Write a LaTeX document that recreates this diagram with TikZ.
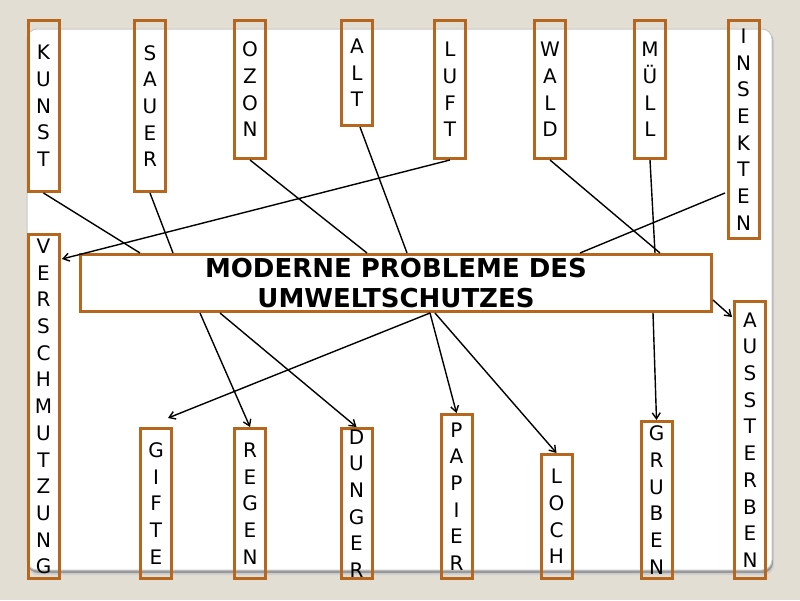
\documentclass[tikz,border=0pt]{standalone}
\usepackage{fontspec}
\setmainfont{DejaVu Sans}
\usetikzlibrary{arrows.meta,calc}
\definecolor{bgc}{RGB}{227,222,212}
\definecolor{boxc}{RGB}{183,102,30}
\begin{document}
\begin{tikzpicture}[x=1pt,y=-1pt,
  vbox/.style={draw=boxc,line width=3pt,minimum width=31pt,inner sep=0pt,align=center,
    font=\fontsize{20}{26.7}\selectfont},
  mainbox/.style={draw=boxc,line width=3pt,inner sep=0pt,align=center,
    font=\bfseries\fontsize{26}{30}\selectfont},
  conn/.style={line width=1.4pt},
  arr/.style={conn,-{Straight Barb[length=6pt,width=8pt]}}]
\useasboundingbox (0,0) rectangle (800,600);
\fill[bgc] (0,0) rectangle (800,600);
% panel with shadow
\fill[black!18,rounded corners=10pt] (28,31) rectangle (774,575);
\fill[black!40,rounded corners=10pt] (28,31) rectangle (773,573);
\filldraw[fill=white,draw=black!22,line width=1pt,rounded corners=10pt] (27,29) rectangle (772,570);

% coordinates on the central box and free ends
\coordinate (mKunst) at (140,253);
\coordinate (mSauer) at (173,253);
\coordinate (mOzon) at (367,253);
\coordinate (mAlt) at (407,253);
\coordinate (aStart) at (360,127);
\coordinate (mWald) at (660,253);
\coordinate (mMuell) at (655,253);
\coordinate (mInsekten) at (580,253);
\coordinate (iStart) at (725,193);
\coordinate (vTip) at (62,259);
\coordinate (bRegen) at (200,313);
\coordinate (bDunger) at (220,313);
\coordinate (bPapier) at (430,313);
\coordinate (bLoch) at (435,313);
\coordinate (bGifte) at (430,313);
\coordinate (gTip) at (168,418);
\coordinate (bGruben) at (653,313);
\coordinate (bAus) at (713,300);
\coordinate (ausTip) at (732,317);

% boxes
\node[vbox,minimum height=171pt] (kunst) at (43.5,106) {K\\U\\N\\S\\T};
\node[vbox,minimum height=171pt] (sauer) at (150,106) {S\\A\\U\\E\\R};
\node[vbox,minimum height=138pt] (ozon) at (250,89.5) {O\\Z\\O\\N};
\node[vbox,minimum height=105pt] (alt) at (357,73) {A\\L\\T};
\node[vbox,minimum height=138pt] (luft) at (450,89.5) {L\\U\\F\\T};
\node[vbox,minimum height=138pt] (wald) at (550,89.5) {W\\A\\L\\D};
\node[vbox,minimum height=138pt] (muell) at (650,89.5) {M\\Ü\\L\\L};
\node[vbox,minimum height=218pt] (insekten) at (743.5,129.5) {I\\N\\S\\E\\K\\T\\E\\N};
\node[vbox,minimum height=344pt] (versch) at (43.5,406.5) {V\\E\\R\\S\\C\\H\\M\\U\\T\\Z\\U\\N\\G};
\node[vbox,minimum height=150pt] (gifte) at (156,503.5) {G\\I\\F\\T\\E};
\node[vbox,minimum height=150pt] (regen) at (250,503.5) {R\\E\\G\\E\\N};
\node[vbox,minimum height=150pt] (dunger) at (356.5,503.5) {D\\U\\N\\G\\E\\R};
\node[vbox,minimum height=164pt] (papier) at (456.5,496.5) {P\\A\\P\\I\\E\\R};
\node[vbox,minimum height=124pt] (loch) at (556.5,516.5) {L\\O\\C\\H};
\node[vbox,minimum height=157pt] (gruben) at (656.5,500) {G\\R\\U\\B\\E\\N};
\node[vbox,minimum height=277pt] (ausst) at (750,440) {A\\U\\S\\S\\T\\E\\R\\B\\E\\N};
\node[mainbox,minimum width=631pt,minimum height=57pt] (main) at (396,283)
  {MODERNE PROBLEME DES\\UMWELTSCHUTZES};

% connectors
\draw[conn] (kunst.south) -- (mKunst);
\draw[conn] (sauer.south) -- (mSauer);
\draw[conn] (ozon.south) -- (mOzon);
\draw[conn] (aStart) -- (mAlt);
\draw[arr] (luft.south) -- (vTip);
\draw[conn] (wald.south) -- (mWald);
\draw[conn] (muell.south) -- (mMuell);
\draw[conn] (iStart) -- (mInsekten);
\draw[arr] (bRegen) -- (regen.north);
\draw[arr] (bDunger) -- (dunger.north);
\draw[arr] (bPapier) -- (papier.north);
\draw[arr] (bLoch) -- (loch.north);
\draw[arr] (bGifte) -- (gTip);
\draw[arr] (bGruben) -- (gruben.north);
\draw[arr] (bAus) -- (ausTip);
\end{tikzpicture}
\end{document}
